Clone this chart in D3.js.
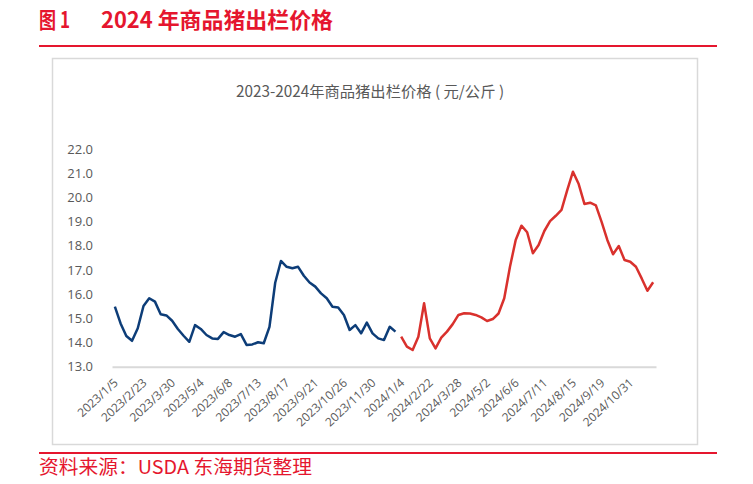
<!DOCTYPE html>
<html>
<head>
<meta charset="utf-8">
<script src="https://cdn.jsdelivr.net/npm/d3@7"></script>
<style>
  html, body { margin: 0; padding: 0; background: #fff; }
  svg { display: block; }
  text { font-family: "Noto Sans CJK SC", "Noto Sans", sans-serif; }
</style>
</head>
<body>
<div id="chart"></div>
<script>
// ---- data ----
const tickLabels = ["2023/1/5","2023/2/23","2023/3/30","2023/5/4","2023/6/8","2023/7/13","2023/8/17","2023/9/21","2023/10/26","2023/11/30","2024/1/4","2024/2/22","2024/3/28","2024/5/2","2024/6/6","2024/7/11","2024/8/15","2024/9/19","2024/10/31"];
const labelEvery = 5;
const nCategories = 95;
const values2023 = [15.48,14.79,14.27,14.07,14.59,15.51,15.83,15.69,15.17,15.12,14.90,14.56,14.28,14.03,14.72,14.56,14.31,14.17,14.15,14.43,14.31,14.24,14.35,13.90,13.92,14.01,13.97,14.65,16.47,17.37,17.13,17.07,17.13,16.76,16.48,16.31,16.03,15.83,15.48,15.45,15.14,14.52,14.72,14.38,14.82,14.38,14.17,14.10,14.65,14.45];
const values2024 = [14.24,13.83,13.69,14.24,15.62,14.17,13.76,14.20,14.45,14.76,15.14,15.21,15.20,15.14,15.04,14.89,14.97,15.20,15.83,17.13,18.24,18.83,18.56,17.69,18.03,18.61,19.02,19.24,19.48,20.30,21.06,20.55,19.73,19.78,19.67,18.99,18.24,17.65,17.99,17.41,17.34,17.13,16.65,16.14,16.49];
const yTicks = [13,14,15,16,17,18,19,20,21,22];
const chartTitle = "2023-2024年商品猪出栏价格 ( 元/公斤 )";
const figNo = "图 1";
const figTitle = "2024 年商品猪出栏价格";
const source = "资料来源：USDA 东海期货整理";

// ---- layout ----
const W = 753, H = 484;
const red = "#e5162e";
const grey = "#595959";
const svg = d3.select("#chart").append("svg").attr("width", W).attr("height", H);

// header
svg.append("text").attr("x", 39).attr("y", 28).attr("fill", red)
  .attr("font-size", 22).attr("font-weight", "bold").text(figNo)
  .attr("textLength", 31).attr("lengthAdjust", "spacingAndGlyphs");
svg.append("text").attr("x", 101).attr("y", 28).attr("fill", red)
  .attr("font-size", 22).attr("font-weight", "bold").text(figTitle)
  .attr("textLength", 232).attr("lengthAdjust", "spacingAndGlyphs");
svg.append("line").attr("x1", 39).attr("x2", 717).attr("y1", 46).attr("y2", 46)
  .attr("stroke", red).attr("stroke-width", 2);

// chart frame
svg.append("rect").attr("x", 52.5).attr("y", 58.5).attr("width", 645).attr("height", 386)
  .attr("fill", "#fff").attr("stroke", "#d9d9d9").attr("stroke-width", 1.5);

// footer
svg.append("line").attr("x1", 39).attr("x2", 717).attr("y1", 453).attr("y2", 453)
  .attr("stroke", red).attr("stroke-width", 2);
svg.append("text").attr("x", 39).attr("y", 474).attr("fill", red)
  .attr("font-size", 19).text(source)
  .attr("textLength", 273).attr("lengthAdjust", "spacingAndGlyphs");

// chart title
svg.append("text").attr("x", 370).attr("y", 97).attr("text-anchor", "middle")
  .attr("fill", grey).attr("font-size", 15.3).text(chartTitle);

// scales
const cats = d3.range(nCategories);
const x = d3.scaleBand().domain(cats).range([112, 656]).paddingInner(0).paddingOuter(0);
const cx = i => x(i) + x.bandwidth() / 2;
const y = d3.scaleLinear().domain([13, 22]).range([366.7, 149]);

// x axis
const xAxis = d3.axisBottom(x)
  .tickValues(cats.filter(i => i % labelEvery === 0 && i / labelEvery < tickLabels.length))
  .tickFormat(i => tickLabels[i / labelEvery])
  .tickSize(0);
const gx = svg.append("g").attr("transform", "translate(0,366.7)").call(xAxis);
gx.select(".domain").attr("stroke", "#d9d9d9").attr("stroke-width", 2);
gx.selectAll("text")
  .attr("x", 0).attr("y", 0).attr("dy", 0)
  .attr("text-anchor", "end")
  .attr("transform", "translate(4,17) rotate(-43)")
  .attr("fill", grey).attr("font-size", 12)
  .style("font-family", "'Open Sans', 'Noto Sans', sans-serif");

// y axis
const yAxis = d3.axisLeft(y).tickValues(yTicks).tickFormat(d3.format(".1f")).tickSize(0).tickPadding(19);
const gy = svg.append("g").attr("transform", "translate(112,0)").call(yAxis);
gy.select(".domain").remove();
gy.selectAll("text").attr("fill", grey).attr("font-size", 13)
  .style("font-family", "'Open Sans', 'Noto Sans', sans-serif");

// lines
const line = d3.line().x(d => cx(d.i)).y(d => y(d.v));
const s2023 = values2023.map((v, k) => ({ i: k, v }));
const s2024 = values2024.map((v, k) => ({ i: values2023.length + k, v }));
svg.append("path").datum(s2023).attr("d", line).attr("fill", "none")
  .attr("stroke", "#0d3d78").attr("stroke-width", 2.5).attr("stroke-linejoin", "round");
svg.append("path").datum(s2024).attr("d", line).attr("fill", "none")
  .attr("stroke", "#d9312d").attr("stroke-width", 2.5).attr("stroke-linejoin", "round");
</script>
</body>
</html>
